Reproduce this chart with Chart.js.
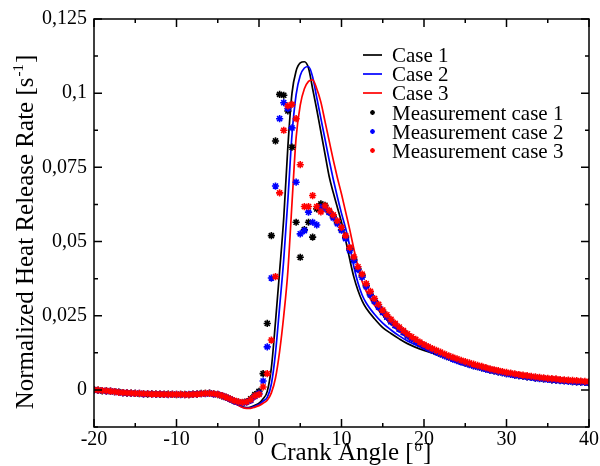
<!DOCTYPE html>
<html>
<head>
<meta charset="utf-8">
<script src="https://cdn.jsdelivr.net/npm/chart.js@4.4.1/dist/chart.umd.min.js"></script>
<style>
  html, body { margin: 0; padding: 0; background: #fff; }
  #wrap { width: 600px; height: 466px; }
</style>
</head>
<body>
<div id="wrap"><canvas id="hrr" width="600" height="466"></canvas></div>
<script>
// simulated curves (crank angle in degrees)
const curveAngle = [-20, -18, -16, -14, -12, -10, -8, -6, -5, -4, -3, -2, -1.5, -1, -0.5,
  0, 0.5, 1, 1.5, 2, 2.5, 3, 3.5, 4, 4.5, 5, 5.5, 6, 6.5, 7, 7.5, 8, 8.5, 9, 9.5,
  10, 10.5, 11, 11.5, 12, 12.5, 13, 14, 15, 16, 17, 18,
  20, 22, 24, 26, 28, 30, 32, 34, 36, 38, 40];

const case1 = [0.0000, -0.0004, -0.0009, -0.0012, -0.0014, -0.0015, -0.0015, -0.0013, -0.0015, -0.0025, -0.0042, -0.0057, -0.0060, -0.0058, -0.0052,
  -0.0045, -0.0030, -0.0005, 0.0075, 0.0230, 0.0400, 0.0580, 0.0820, 0.1000, 0.1075, 0.1102, 0.1106, 0.1085, 0.1015, 0.0945, 0.0870, 0.0795, 0.0720, 0.0665, 0.0615,
  0.0565, 0.0505, 0.0440, 0.0380, 0.0335, 0.0300, 0.0275, 0.0240, 0.0210, 0.0190, 0.0172, 0.0156,
  0.0133, 0.0115, 0.0095, 0.0077, 0.0063, 0.0051, 0.0041, 0.0033, 0.0027, 0.0022, 0.0018];

const case2 = [0.0000, -0.0004, -0.0009, -0.0012, -0.0014, -0.0015, -0.0015, -0.0013, -0.0015, -0.0025, -0.0043, -0.0058, -0.0061, -0.0060, -0.0055,
  -0.0049, -0.0038, -0.0025, 0.0020, 0.0125, 0.0280, 0.0440, 0.0640, 0.0860, 0.0995, 0.1060, 0.1085, 0.1090, 0.1055, 0.0985, 0.0915, 0.0845, 0.0775, 0.0710, 0.0650,
  0.0595, 0.0545, 0.0485, 0.0415, 0.0360, 0.0320, 0.0293, 0.0255, 0.0225, 0.0202, 0.0182, 0.0165,
  0.0140, 0.0121, 0.0100, 0.0081, 0.0066, 0.0053, 0.0043, 0.0035, 0.0028, 0.0023, 0.0019];

const case3 = [0.0000, -0.0004, -0.0009, -0.0012, -0.0014, -0.0015, -0.0015, -0.0013, -0.0015, -0.0026, -0.0044, -0.0059, -0.0062, -0.0062, -0.0058,
  -0.0053, -0.0045, -0.0035, -0.0010, 0.0040, 0.0130, 0.0250, 0.0400, 0.0630, 0.0850, 0.0960, 0.1015, 0.1040, 0.1045, 0.1015, 0.0970, 0.0905, 0.0840, 0.0775, 0.0715,
  0.0660, 0.0600, 0.0540, 0.0475, 0.0415, 0.0365, 0.0332, 0.0285, 0.0252, 0.0223, 0.0200, 0.0180,
  0.0152, 0.0128, 0.0105, 0.0085, 0.0069, 0.0056, 0.0045, 0.0037, 0.0030, 0.0025, 0.0020];

// measured points, every 0.5 deg
const measAngle = [-20, -19.5, -19, -18.5, -18, -17.5, -17, -16.5, -16, -15.5,
  -15, -14.5, -14, -13.5, -13, -12.5, -12, -11.5, -11, -10.5,
  -10, -9.5, -9, -8.5, -8, -7.5, -7, -6.5, -6, -5.5,
  -5, -4.5, -4, -3.5, -3, -2.5, -2, -1.5, -1, -0.5,
  0, 0.5, 1, 1.5, 2, 2.5, 3, 3.5, 4, 4.5,
  5, 5.5, 6, 6.5, 7, 7.5, 8, 8.5, 9, 9.5,
  10, 10.5, 11, 11.5, 12, 12.5, 13, 13.5, 14, 14.5,
  15, 15.5, 16, 16.5, 17, 17.5, 18, 18.5, 19, 19.5,
  20, 20.5, 21, 21.5, 22, 22.5, 23, 23.5, 24, 24.5,
  25, 25.5, 26, 26.5, 27, 27.5, 28, 28.5, 29, 29.5,
  30, 30.5, 31, 31.5, 32, 32.5, 33, 33.5, 34, 34.5,
  35, 35.5, 36, 36.5, 37, 37.5, 38, 38.5, 39, 39.5, 40];

const meas1 = [0.0001, -0.0001, -0.0003, -0.0003, -0.0005, -0.0006, -0.0007, -0.0009, -0.0011, -0.0011,
  -0.0012, -0.0013, -0.0013, -0.0014, -0.0013, -0.0014, -0.0015, -0.0015, -0.0014, -0.0015,
  -0.0016, -0.0015, -0.0015, -0.0016, -0.0014, -0.0014, -0.0012, -0.0012, -0.0011, -0.0013,
  -0.0016, -0.0020, -0.0025, -0.0031, -0.0037, -0.0041, -0.0043, -0.0039, -0.0030, -0.0016,
  -0.0005, 0.0055, 0.0224, 0.0520, 0.0839, 0.0996, 0.0993, 0.0940, 0.0818, 0.0565,
  0.0447, 0.0540, 0.0565, 0.0515, 0.0610, 0.0627, 0.0622, 0.0600, 0.0585, 0.0565,
  0.0540, 0.0515, 0.0475, 0.0440, 0.0408, 0.0385, 0.0352, 0.0322, 0.0300, 0.0280,
  0.0262, 0.0246, 0.0230, 0.0218, 0.0206, 0.0195, 0.0183, 0.0173, 0.0164, 0.0156,
  0.0148, 0.0140, 0.0134, 0.0127, 0.0121, 0.0116, 0.0110, 0.0105, 0.0100, 0.0095,
  0.0090, 0.0086, 0.0082, 0.0078, 0.0074, 0.0071, 0.0067, 0.0064, 0.0061, 0.0058,
  0.0055, 0.0053, 0.0050, 0.0048, 0.0046, 0.0044, 0.0042, 0.0040, 0.0039, 0.0037,
  0.0036, 0.0034, 0.0033, 0.0032, 0.0031, 0.0030, 0.0028, 0.0027, 0.0026, 0.0025, 0.0024];

const meas2 = [0.0000, -0.0002, -0.0002, -0.0004, -0.0004, -0.0006, -0.0008, -0.0010, -0.0010, -0.0012,
  -0.0012, -0.0012, -0.0014, -0.0013, -0.0014, -0.0015, -0.0014, -0.0015, -0.0016, -0.0015,
  -0.0015, -0.0016, -0.0016, -0.0015, -0.0015, -0.0014, -0.0013, -0.0013, -0.0012, -0.0014,
  -0.0015, -0.0019, -0.0025, -0.0031, -0.0038, -0.0042, -0.0044, -0.0041, -0.0035, -0.0022,
  -0.0012, 0.0030, 0.0145, 0.0377, 0.0687, 0.0914, 0.0968, 0.0948, 0.0883, 0.0700,
  0.0526, 0.0537, 0.0599, 0.0565, 0.0556, 0.0615, 0.0612, 0.0598, 0.0580, 0.0560,
  0.0538, 0.0510, 0.0470, 0.0436, 0.0405, 0.0380, 0.0348, 0.0320, 0.0298, 0.0279,
  0.0261, 0.0245, 0.0230, 0.0217, 0.0205, 0.0194, 0.0182, 0.0172, 0.0163, 0.0155,
  0.0147, 0.0140, 0.0133, 0.0127, 0.0121, 0.0115, 0.0110, 0.0104, 0.0099, 0.0094,
  0.0090, 0.0085, 0.0081, 0.0078, 0.0074, 0.0070, 0.0067, 0.0064, 0.0061, 0.0058,
  0.0055, 0.0052, 0.0050, 0.0048, 0.0046, 0.0044, 0.0042, 0.0040, 0.0038, 0.0037,
  0.0035, 0.0034, 0.0033, 0.0031, 0.0030, 0.0029, 0.0028, 0.0027, 0.0026, 0.0025, 0.0024];

const meas3 = [0.0000, -0.0001, -0.0002, -0.0003, -0.0004, -0.0006, -0.0008, -0.0009, -0.0010, -0.0011,
  -0.0012, -0.0012, -0.0013, -0.0013, -0.0014, -0.0014, -0.0014, -0.0015, -0.0015, -0.0015,
  -0.0015, -0.0015, -0.0016, -0.0016, -0.0015, -0.0014, -0.0013, -0.0012, -0.0012, -0.0013,
  -0.0015, -0.0019, -0.0024, -0.0030, -0.0036, -0.0040, -0.0042, -0.0040, -0.0033, -0.0020,
  -0.0015, 0.0010, 0.0055, 0.0168, 0.0382, 0.0664, 0.0875, 0.0957, 0.0962, 0.0914,
  0.0759, 0.0618, 0.0618, 0.0655, 0.0618, 0.0600, 0.0620, 0.0605, 0.0590, 0.0570,
  0.0548, 0.0520, 0.0480, 0.0448, 0.0415, 0.0390, 0.0358, 0.0332, 0.0308, 0.0288,
  0.0269, 0.0253, 0.0238, 0.0224, 0.0212, 0.0200, 0.0189, 0.0179, 0.0170, 0.0161,
  0.0153, 0.0146, 0.0139, 0.0133, 0.0127, 0.0121, 0.0115, 0.0110, 0.0105, 0.0100,
  0.0095, 0.0091, 0.0087, 0.0083, 0.0079, 0.0075, 0.0071, 0.0068, 0.0065, 0.0062,
  0.0059, 0.0057, 0.0054, 0.0052, 0.0050, 0.0048, 0.0046, 0.0044, 0.0042, 0.0041,
  0.0039, 0.0038, 0.0037, 0.0035, 0.0034, 0.0033, 0.0032, 0.0031, 0.0030, 0.0029, 0.0028];

const seriesNames = ['Case 1', 'Case 2', 'Case 3', 'Measurement case 1', 'Measurement case 2', 'Measurement case 3'];
const seriesColors = ['#000000', '#0000ff', '#ff0000', '#000000', '#0000ff', '#ff0000'];

const xTicks = [-20, -10, 0, 10, 20, 30, 40];
const yTicks = [0, 0.025, 0.05, 0.075, 0.1, 0.125];
const yTickLabels = ['0', '0,025', '0,05', '0,075', '0,1', '0,125'];

const SERIF = '"Liberation Serif", "Times New Roman", serif';

const pts = (xs, ys) => xs.map((x, i) => ({ x: x, y: ys[i] }));

function curveSet(i, ys, order) {
  return {
    label: seriesNames[i],
    data: pts(curveAngle, ys),
    showLine: true,
    borderColor: seriesColors[i],
    borderWidth: 1.7,
    pointRadius: 0,
    cubicInterpolationMode: 'monotone',
    order: order
  };
}

function measSet(i, ys, order) {
  return {
    label: seriesNames[i],
    data: pts(measAngle, ys),
    showLine: false,
    pointStyle: 'star',
    pointRadius: 3.6,
    pointBorderWidth: 1.6,
    borderColor: seriesColors[i],
    backgroundColor: seriesColors[i],
    order: order
  };
}

function drawStar(ctx, x, y, r) {
  ctx.beginPath();
  for (let k = 0; k < 4; k++) {
    const a = k * Math.PI / 4;
    ctx.moveTo(x - r * Math.cos(a), y - r * Math.sin(a));
    ctx.lineTo(x + r * Math.cos(a), y + r * Math.sin(a));
  }
  ctx.stroke();
}

// frame with inward ticks, axis titles and the legend
const decorations = {
  id: 'decorations',
  afterDraw(chart) {
    const ctx = chart.ctx;
    const a = chart.chartArea;
    const xs = chart.scales.x, ys = chart.scales.y;
    ctx.save();
    ctx.strokeStyle = '#000';
    ctx.lineWidth = 1.5;
    ctx.strokeRect(a.left, a.top, a.right - a.left, a.bottom - a.top);

    ctx.beginPath();
    for (let v = -20; v <= 40; v += 5) {
      const px = xs.getPixelForValue(v);
      const len = v % 10 === 0 ? 8 : 4;
      ctx.moveTo(px, a.bottom); ctx.lineTo(px, a.bottom - len);
      ctx.moveTo(px, a.top); ctx.lineTo(px, a.top + len);
    }
    for (let v = -0.0125; v <= 0.1251; v += 0.0125) {
      const py = ys.getPixelForValue(v);
      const major = Math.abs(Math.round(v / 0.0125)) % 2 === 0;
      const len = major ? 8 : 4;
      ctx.moveTo(a.left, py); ctx.lineTo(a.left + len, py);
      ctx.moveTo(a.right, py); ctx.lineTo(a.right - len, py);
    }
    ctx.stroke();

    // x title
    ctx.fillStyle = '#000';
    ctx.textBaseline = 'alphabetic';
    const big = '25px ' + SERIF, sup = '15px ' + SERIF;
    ctx.font = big;
    const xa = 'Crank Angle [', xc = ']';
    const wa = ctx.measureText(xa).width, wc = ctx.measureText(xc).width;
    ctx.font = sup;
    const wb = ctx.measureText('o').width;
    const x0 = 350 - (wa + wb + wc) / 2;
    const xBase = 460;
    ctx.font = big; ctx.fillText(xa, x0, xBase);
    ctx.font = sup; ctx.fillText('o', x0 + wa + 1, xBase - 9);
    ctx.font = big; ctx.fillText(xc, x0 + wa + wb + 2, xBase);

    // y title
    ctx.save();
    ctx.translate(33, 233);
    ctx.rotate(-Math.PI / 2);
    ctx.font = big;
    const ya = 'Normalized Heat Release Rate [s', yc = ']';
    const ywa = ctx.measureText(ya).width, ywc = ctx.measureText(yc).width;
    ctx.font = sup;
    const ywb = ctx.measureText('-1').width;
    const y0 = -(ywa + ywb + ywc) / 2;
    ctx.font = big; ctx.fillText(ya, y0, 0);
    ctx.font = sup; ctx.fillText('-1', y0 + ywa + 1, -10);
    ctx.font = big; ctx.fillText(yc, y0 + ywa + ywb + 2, 0);
    ctx.restore();

    // legend
    ctx.font = '21px ' + SERIF;
    const rows = [55, 74, 93, 112.5, 131.5, 150.5];
    seriesNames.forEach((name, i) => {
      const ry = rows[i];
      ctx.strokeStyle = seriesColors[i];
      if (i < 3) {
        ctx.lineWidth = 1.7;
        ctx.beginPath(); ctx.moveTo(363, ry); ctx.lineTo(382, ry); ctx.stroke();
      } else {
        ctx.lineWidth = 1.3;
        drawStar(ctx, 372.5, ry, 2.4);
      }
      ctx.fillStyle = '#000';
      ctx.fillText(name, 392, ry + 7);
    });
    ctx.restore();
  }
};

new Chart(document.getElementById('hrr'), {
  type: 'scatter',
  data: {
    datasets: [
      curveSet(0, case1, 5),
      curveSet(1, case2, 4),
      curveSet(2, case3, 3),
      measSet(3, meas1, 2),
      measSet(4, meas2, 1),
      measSet(5, meas3, 0)
    ]
  },
  options: {
    responsive: false,
    animation: false,
    events: [],
    layout: { padding: { top: 19, right: 11, left: 0, bottom: 0 } },
    plugins: { legend: { display: false }, tooltip: { enabled: false } },
    scales: {
      x: {
        type: 'linear',
        min: -20,
        max: 40,
        afterBuildTicks: s => { s.ticks = xTicks.map(v => ({ value: v })); },
        afterFit: s => { s.height = 39; },
        grid: { display: false, drawTicks: false },
        border: { display: false },
        ticks: {
          color: '#000',
          padding: 1,
          maxRotation: 0,
          font: { family: SERIF, size: 20 },
          callback: v => String(v)
        }
      },
      y: {
        min: -0.0125,
        max: 0.125,
        afterBuildTicks: s => { s.ticks = yTicks.map(v => ({ value: v })); },
        afterFit: s => { s.width = 94; },
        grid: { display: false, drawTicks: false },
        border: { display: false },
        ticks: {
          color: '#000',
          padding: 7,
          font: { family: SERIF, size: 20 },
          callback: v => yTickLabels[yTicks.indexOf(v)]
        }
      }
    }
  },
  plugins: [decorations]
});
</script>
</body>
</html>
